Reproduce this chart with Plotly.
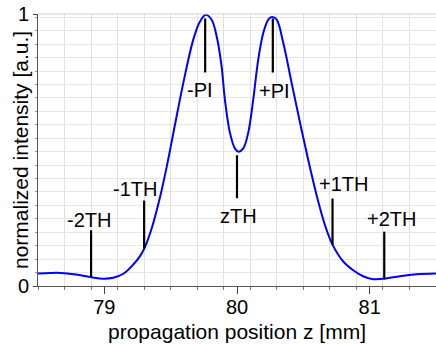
import numpy as np
import plotly.graph_objects as go

# ---- data ----
z_mm = [78.500, 78.590, 78.673, 78.786, 78.905, 78.990, 79.067, 79.143, 79.218,
        79.269, 79.306, 79.359, 79.419, 79.470, 79.532, 79.595, 79.670, 79.721,
        79.764, 79.809, 79.847, 79.884, 79.909, 79.947, 79.984, 80.012, 80.047,
        80.084, 80.122, 80.160, 80.198, 80.236, 80.263, 80.299, 80.349, 80.412,
        80.474, 80.537, 80.600, 80.663, 80.718, 80.801, 80.876, 80.951, 81.027,
        81.115, 81.228, 81.354, 81.499]
intensity = [0.046, 0.048, 0.048, 0.042, 0.032, 0.027, 0.030, 0.045, 0.079,
             0.110, 0.143, 0.215, 0.325, 0.438, 0.592, 0.746, 0.905, 0.972,
             0.997, 0.979, 0.917, 0.807, 0.684, 0.563, 0.506, 0.494, 0.506,
             0.562, 0.684, 0.832, 0.930, 0.979, 0.989, 0.979, 0.893, 0.746,
             0.603, 0.463, 0.334, 0.224, 0.154, 0.090, 0.058, 0.036, 0.025,
             0.027, 0.036, 0.043, 0.046]

marker_labels = ["-2TH", "-1TH", "-PI", "zTH", "+PI", "+1TH", "+2TH"]
marker_z = [78.9, 79.3, 79.76, 80.0, 80.27, 80.72, 81.11]

x_ticks = [79, 80, 81]
y_ticks = [0, 1]
x_title = "propagation position z [mm]"
y_title = "normalized intensity [a.u.]"

# ---- styling (pixel offsets of marker lines / labels relative to the curve) ----
# (line start px, line end px, label y shift px, label x shift px), +up
marker_style = [
    (0, 47, 57, -2),
    (0, 48, 60, -9),
    (-3, -57, -75, -5),
    (-5, -48, -66, 1),
    (-1, -55, -73, 1.5),
    (0, 46, 61, 11),
    (0, 47, 60, 7),
]

FONT = "Liberation Sans, Arial, sans-serif"
marker_base = np.interp(marker_z, z_mm, intensity)

fig = go.Figure()
fig.add_trace(go.Scatter(
    x=z_mm, y=intensity, mode="lines",
    line=dict(color="#0000ff", width=2, shape="spline", smoothing=1.0),
    hoverinfo="skip", showlegend=False,
))

shapes = []
annotations = []
for lab, zx, yb, st in zip(marker_labels, marker_z, marker_base, marker_style):
    y0, y1, ty, tx = st
    shapes.append(dict(
        type="line", xref="x", yref="y", x0=zx, x1=zx,
        ysizemode="pixel", yanchor=float(yb), y0=y0, y1=y1,
        line=dict(color="black", width=2.2),
    ))
    annotations.append(dict(
        x=zx, y=float(yb), xref="x", yref="y", text=lab, showarrow=False,
        xshift=tx, yshift=ty, xanchor="center", yanchor="middle",
        font=dict(family=FONT, size=20, color="black"),
    ))

# top frame line
shapes.append(dict(type="line", xref="paper", yref="paper", x0=0, x1=1, y0=1, y1=1,
                   line=dict(color="#d0d0d0", width=1)))

annotations.append(dict(
    text=x_title, xref="paper", yref="paper", x=0.5, y=0, yshift=-45,
    xanchor="center", yanchor="middle", showarrow=False,
    font=dict(family=FONT, size=21, color="black"),
))
annotations.append(dict(
    text=y_title, xref="paper", yref="paper", x=0, y=0.5, xshift=-18,
    xanchor="center", yanchor="middle", showarrow=False, textangle=-90,
    font=dict(family=FONT, size=21, color="black"),
))

fig.update_layout(
    width=436, height=345,
    margin=dict(l=38, r=0, t=14, b=59),
    paper_bgcolor="white", plot_bgcolor="white",
    shapes=shapes, annotations=annotations,
    font=dict(family=FONT, size=20, color="black"),
    xaxis=dict(
        range=[78.5, 81.5], tickmode="array", tickvals=x_ticks,
        ticks="outside", ticklen=7, tickcolor="#444", tickwidth=1,
        ticklabelstandoff=-4,
        showgrid=False, zeroline=False, showline=True, linecolor="#555", linewidth=1,
        tickfont=dict(family=FONT, size=20, color="black"),
        minor=dict(tickmode="linear", tick0=78.5, dtick=0.2, ticks="outside", ticklen=3,
                   tickcolor="#777", showgrid=True, gridcolor="#e0e0e0", gridwidth=1),
    ),
    yaxis=dict(
        range=[0, 1], tickmode="array", tickvals=y_ticks,
        ticks="outside", ticklen=4, tickcolor="#444", tickwidth=1,
        showgrid=False, zeroline=False, showline=True, linecolor="#555", linewidth=1,
        tickfont=dict(family=FONT, size=20, color="black"),
        minor=dict(tickmode="linear", tick0=0, dtick=0.0494, ticks="outside", ticklen=2,
                   tickcolor="#999", showgrid=True, gridcolor="#e6e6e6", gridwidth=1),
    ),
)

fig.write_html("out.html")
